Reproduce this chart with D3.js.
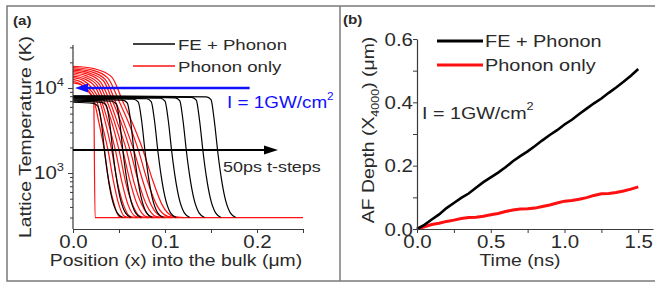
<!DOCTYPE html>
<html>
<head>
<meta charset="utf-8">
<script src="https://cdn.jsdelivr.net/npm/d3@7"></script>
<style>
  body { margin: 0; background: #fff; }
  svg { display: block; font-family: 'Liberation Sans', Arial, sans-serif; }
</style>
</head>
<body>
<svg id="chart" width="655" height="284"></svg>
<script>
//------------------------------------------------------------------------------
// (a) lattice temperature profiles, [x (um), T (K)]

/** FE + Phonon, one profile per 50ps step */
const feProfiles = [
  [[0,6800],[.022,6600],[.027,6120],[.0305,4200],[.0345,1720],[.038,900],[.042,520],[.048,340],[.054,300]],
  [[0,7000],[.031,6790],[.036,6300],[.0395,4200],[.0435,1720],[.047,900],[.051,520],[.057,340],[.063,300]],
  [[0,7200],[.042,6980],[.047,6480],[.0505,4200],[.0545,1720],[.058,900],[.062,520],[.068,340],[.074,300]],
  [[0,7400],[.054,7180],[.059,6660],[.0625,4200],[.0665,1720],[.070,900],[.074,520],[.080,340],[.086,300]],
  [[0,7600],[.066,7370],[.071,6840],[.0745,4200],[.0785,1720],[.082,900],[.086,520],[.092,340],[.098,300]],
  [[0,7700],[.080,7470],[.085,6930],[.0885,4200],[.0925,1720],[.096,900],[.100,520],[.106,340],[.112,300]],
  [[0,7800],[.095,7570],[.100,7020],[.1035,4200],[.1075,1720],[.111,900],[.115,520],[.121,340],[.127,300]],
  [[0,7900],[.111,7660],[.116,7110],[.1195,4200],[.1235,1720],[.127,900],[.131,520],[.137,340],[.143,300]],
  [[0,8000],[.129,7760],[.134,7200],[.1375,4200],[.1415,1720],[.145,900],[.149,520],[.155,340],[.161,300]],
  [[0,8100],[.145,7860],[.150,7290],[.1535,4200],[.1575,1720],[.161,900],[.165,520],[.171,340],[.177,300]],
];

/** Phonon only; the first one is the step that also draws the 300K floor */
const phononProfiles = [
  [[0,11500],[.008,11000],[.015,9800],[.021,8000],[.0225,7600],[.024,300],[.25,300]],
  [[0,12000],[.008,11160],[.017,9000],[.023,7000],[.028,4000],[.034,1870],[.039,800],[.045,420],[.050,310],[.056,300]],
  [[0,12600],[.009,11720],[.019,9450],[.026,7000],[.031,4000],[.038,1870],[.044,800],[.050,420],[.056,310],[.063,300]],
  [[0,13200],[.011,12280],[.021,9900],[.029,7000],[.035,4000],[.042,1870],[.048,800],[.055,420],[.062,310],[.069,300]],
  [[0,13800],[.012,12830],[.024,10350],[.031,7000],[.038,4000],[.046,1870],[.053,800],[.060,420],[.068,310],[.075,300]],
  [[0,14400],[.013,13390],[.026,10800],[.034,7000],[.042,4000],[.050,1870],[.057,800],[.065,420],[.073,310],[.082,300]],
  [[0,15000],[.014,13950],[.028,11250],[.037,7000],[.045,4000],[.054,1870],[.062,800],[.070,420],[.079,310],[.088,300]],
  [[0,15600],[.016,14510],[.030,11700],[.040,7000],[.048,4000],[.058,1870],[.066,800],[.075,420],[.084,310],[.094,300]],
  [[0,16200],[.017,15070],[.033,12150],[.043,7000],[.052,4000],[.062,1870],[.071,800],[.080,420],[.090,310],[.100,300]],
  [[0,16800],[.019,15620],[.035,12600],[.046,7000],[.055,4000],[.066,1870],[.076,800],[.085,420],[.096,310],[.107,300]],
  [[0,17400],[.021,16180],[.038,13050],[.050,7000],[.060,4000],[.071,1870],[.081,800],[.091,420],[.103,310],[.114,300]],
  [[0,18000],[.024,16740],[.042,13500],[.054,7000],[.064,4000],[.076,1870],[.087,800],[.097,420],[.109,310],[.121,300]],
];

const xTicksA = [0, 0.05, 0.1, 0.15, 0.2, 0.25];
const xLabelsA = [0, 0.1, 0.2];
const yMajorA = [1000, 10000];
const yMinorA = [300,400,500,600,700,800,900,2000,3000,4000,5000,6000,7000,8000,9000,20000,30000];

//------------------------------------------------------------------------------
// (b) AF depth vs time

const timeNs = [0,.05,.1,.15,.2,.25,.3,.35,.4,.45,.5,.55,.6,.65,.7,.75,.8,.85,.9,.95,1.0,1.05,1.1,1.15,1.2,1.25,1.3,1.35,1.4,1.45,1.5];
const depthFE = [0,.013,.030,.046,.066,.082,.098,.112,.130,.148,.163,.178,.195,.214,.230,.245,.262,.280,.297,.312,.330,.345,.363,.380,.397,.412,.430,.447,.465,.484,.505];
const depthPhonon = [0,.007,.014,.018,.024,.028,.033,.036,.037,.040,.045,.049,.055,.060,.063,.064,.066,.071,.076,.082,.088,.090,.094,.099,.106,.111,.112,.115,.120,.126,.133];

const xTicksB = [0,.25,.5,.75,1.0,1.25,1.5];
const yTicksB = [0,.1,.2,.3,.4,.5,.6];

//------------------------------------------------------------------------------

const SX = 1.17;   // glyphs in the reference are wider than Arial
const svg = d3.select('#chart');
const axisColor = '#3a3a3a';
const textColor = '#2a2a2a';

/** place a horizontally widened text; parts are [str, size?, dy?] */
function text(x, y, parts, o = {}) {
  const t = svg.append('text')
    .attr('transform', `translate(${x},${y})` + (o.rotate ? ` rotate(${o.rotate})` : '') + ` scale(${o.sx || SX},1)`)
    .attr('font-size', o.size || 17)
    .attr('fill', o.fill || textColor)
    .attr('font-weight', o.weight || null)
    .attr('text-anchor', o.anchor || 'start');
  parts.forEach(p => {
    if (typeof p === 'string') p = [p];
    t.append('tspan').attr('font-size', p[1] || null).attr('dy', p[2] || null).text(p[0]);
  });
  return t;
}

// frame round both panels
const frame = svg.append('g').attr('stroke', '#7a7a7a').attr('stroke-width', 1.5).attr('fill', 'none');
frame.append('path').attr('d', 'M655,6H7V281H655');
frame.append('path').attr('d', 'M340,6V281');

//------------------------------------------------------------------------------
// panel (a)

const xA = d3.scaleLinear([0, 0.25], [73, 303]);
const yA = d3.scaleLog([220, 32000], [229, 45]);

const lineA = d3.line().x(d => xA(d[0])).y(d => yA(d[1])).curve(d3.curveMonotoneX);

const gA = svg.append('g');
gA.selectAll('path.phonon').data(phononProfiles).join('path')
  .attr('class', 'phonon').attr('d', lineA)
  .attr('fill', 'none').attr('stroke', '#ff1010').attr('stroke-width', 1.2);
gA.selectAll('path.fe').data(feProfiles).join('path')
  .attr('class', 'fe').attr('d', lineA)
  .attr('fill', 'none').attr('stroke', '#000').attr('stroke-width', 1.2);

function styleAxis(g) {
  g.select('.domain').attr('stroke', axisColor).attr('stroke-width', 1.2);
  g.selectAll('.tick line').attr('stroke', axisColor);
  g.selectAll('.tick text').attr('fill', textColor);
}

const axA = svg.append('g').attr('transform', 'translate(0,229)')
  .call(d3.axisBottom(xA).tickValues(xTicksA).tickSize(4).tickSizeOuter(0)
    .tickFormat(d => xLabelsA.some(v => Math.abs(v - d) < 1e-9) ? d3.format('.1f')(d) : ''))
  .call(styleAxis);
axA.selectAll('.tick text').attr('font-size', 17.5).attr('font-family', null)
  .attr('y', 7).attr('transform', `scale(${SX},1)`);

const ayA = svg.append('g').attr('transform', 'translate(73,0)')
  .call(d3.axisLeft(yA).tickValues(yMinorA).tickSize(3).tickSizeOuter(0).tickFormat(''))
  .call(styleAxis);
ayA.select('.domain').attr('d', `M0,${yA.range()[0]}V${yA.range()[1]}`);
const ayA2 = svg.append('g').attr('transform', 'translate(73,0)')
  .call(d3.axisLeft(yA).tickValues(yMajorA).tickSize(5).tickSizeOuter(0).tickFormat(''))
  .call(styleAxis);
ayA2.select('.domain').remove();
yMajorA.forEach(v => {
  text(64, yA(v) + 6, ['10', [String(Math.round(Math.log10(v))), 11, -8]], { size: 17.5, anchor: 'end' });
});

text(31, 137, ['Lattice Temperature (K)'], { rotate: -90, anchor: 'middle', sx: 1.14 });
text(176, 266, ['Position (x) into the bulk (\u03bcm)'], { anchor: 'middle', sx: 1.14 });
text(13, 25, ['(a)'], { size: 13, weight: 'bold' });

// legend (a)
const legA = [['FE + Phonon', '#000', 44], ['Phonon only', '#ff1010', 66]];
legA.forEach(([name, color, y]) => {
  svg.append('line').attr('x1', 133).attr('x2', 175).attr('y1', y).attr('y2', y)
    .attr('stroke', color).attr('stroke-width', 1.3);
  text(178, y + 6, [name], { size: 15.5, sx: 1.2 });
});

// arrows (a)
const blueY = yA(10000), blackY = yA(1870);
svg.append('line').attr('x1', xA(0.192)).attr('x2', xA(0.012)).attr('y1', blueY).attr('y2', blueY)
  .attr('stroke', '#1010ff').attr('stroke-width', 2.5);
svg.append('path').attr('fill', '#1010ff')
  .attr('d', `M${xA(0) + 2},${blueY}l13,-4.5v9z`);
text(227, 108, ['I = 1GW/cm', ['2', 10, -8]], { size: 16, sx: 1.18, fill: '#1010ff' });

svg.append('line').attr('x1', xA(0)).attr('x2', 265).attr('y1', blackY).attr('y2', blackY)
  .attr('stroke', '#000').attr('stroke-width', 2);
svg.append('path').attr('fill', '#000').attr('d', `M278,${blackY}l-14,-4.5v9z`);
text(223, 172, ['50ps t-steps'], { size: 15.5, sx: 1.16 });

//------------------------------------------------------------------------------
// panel (b)

const xB = d3.scaleLinear([0, 1.6], [417, 653]);
const yB = d3.scaleLinear([0, 0.6], [229, 39]);

const lineB = d3.line().x((d, i) => xB(timeNs[i])).y(d => yB(d));
svg.append('path').datum(depthPhonon).attr('d', lineB)
  .attr('fill', 'none').attr('stroke', '#ff1010').attr('stroke-width', 3);
svg.append('path').datum(depthFE).attr('d', lineB)
  .attr('fill', 'none').attr('stroke', '#000').attr('stroke-width', 2.6);

const axB = svg.append('g').attr('transform', 'translate(0,229)')
  .call(d3.axisBottom(xB).tickValues(xTicksB).tickSize(4).tickSizeOuter(0)
    .tickFormat(d => [0, .5, 1, 1.5].includes(d) ? d3.format('.1f')(d) : ''))
  .call(styleAxis);
axB.selectAll('.tick text').attr('font-size', 17.5).attr('font-family', null)
  .attr('y', 7).attr('transform', `scale(${SX},1)`);

const ayB = svg.append('g').attr('transform', 'translate(417,0)')
  .call(d3.axisLeft(yB).tickValues(yTicksB).tickSize(4).tickSizeOuter(0)
    .tickFormat(d => [0, .2, .4, .6].some(v => Math.abs(v - d) < 1e-9) ? d3.format('.1f')(d) : ''))
  .call(styleAxis);
ayB.selectAll('.tick text').attr('font-size', 17.5).attr('font-family', null)
  .attr('x', -4 / SX).attr('dy', '0.36em').attr('transform', `scale(${SX},1)`);

text(374, 130, ['AF Depth (X', ['4000', 11, 5], [') (\u03bcm)', null, -5]], { rotate: -90, anchor: 'middle', sx: 1.14 });
text(520, 266, ['Time (ns)'], { anchor: 'middle', sx: 1.14 });
text(343, 24, ['(b)'], { size: 13, weight: 'bold' });

const legB = [['FE + Phonon', '#000', 41], ['Phonon only', '#ff1010', 65]];
legB.forEach(([name, color, y]) => {
  svg.append('line').attr('x1', 437).attr('x2', 483).attr('y1', y).attr('y2', y)
    .attr('stroke', color).attr('stroke-width', 3.2);
  text(485, y + 6, [name], { size: 17, sx: 1.17 });
});
text(422, 119, ['I = 1GW/cm', ['2', 11, -9]], { size: 17, sx: 1.16 });
</script>
</body>
</html>
